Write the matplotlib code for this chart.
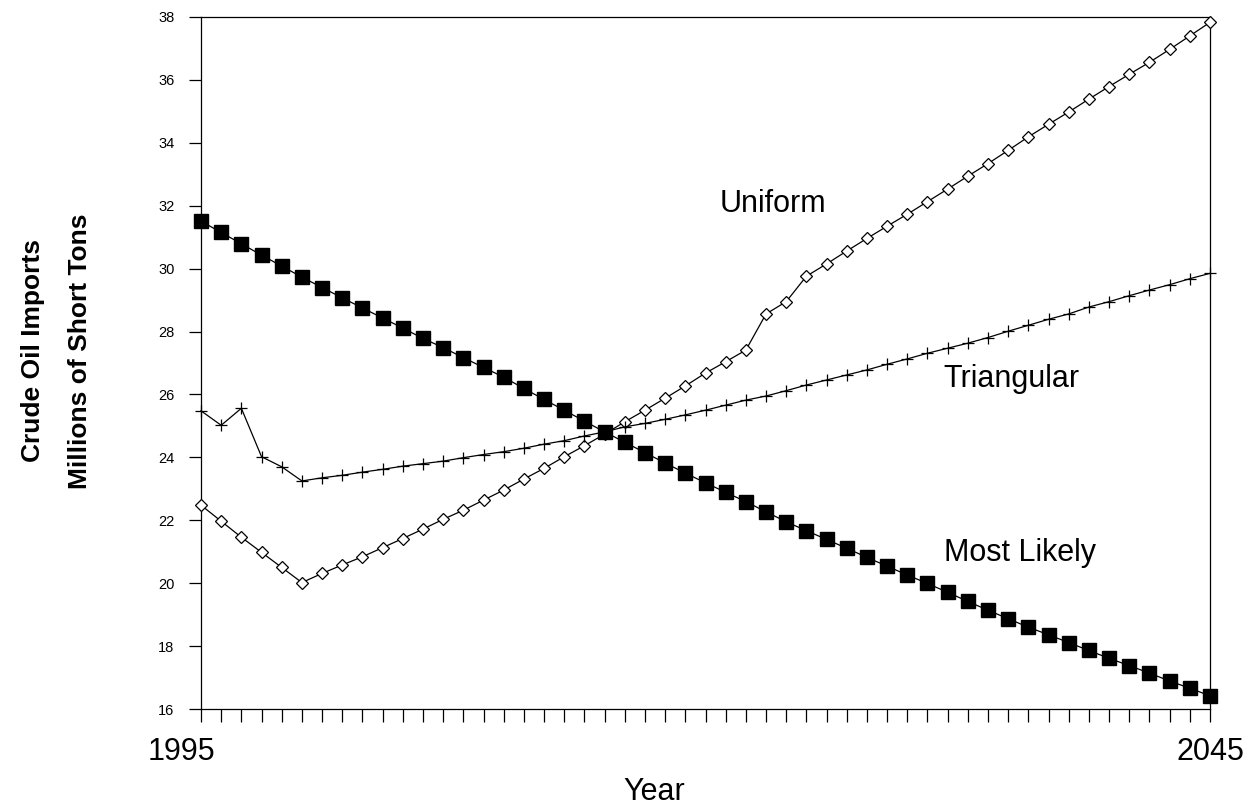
import matplotlib
matplotlib.use("Agg")
import matplotlib.pyplot as plt
import matplotlib.transforms as mtransforms
import numpy as np

plt.rcParams['font.family'] = ['Liberation Sans', 'DejaVu Sans']

# data (millions of short tons)
years = np.arange(1995, 2046)

most_likely = [31.51, 31.15, 30.79, 30.43, 30.08, 29.73, 29.40, 29.07, 28.75, 28.43,
               28.11, 27.78, 27.49, 27.17, 26.86, 26.55, 26.19, 25.84, 25.50, 25.15,
               24.81, 24.48, 24.15, 23.82, 23.50, 23.19, 22.89, 22.59, 22.27, 21.95,
               21.67, 21.39, 21.11, 20.82, 20.54, 20.26, 19.99, 19.71, 19.42, 19.14,
               18.87, 18.60, 18.36, 18.11, 17.86, 17.61, 17.38, 17.14, 16.89, 16.66,
               16.42]

triangular = [25.48, 25.02, 25.56, 24.02, 23.70, 23.25, 23.35, 23.43, 23.53, 23.62,
              23.72, 23.80, 23.88, 23.99, 24.09, 24.18, 24.29, 24.42, 24.53, 24.68,
              24.81, 24.97, 25.08, 25.21, 25.35, 25.50, 25.66, 25.82, 25.95, 26.12,
              26.30, 26.46, 26.62, 26.78, 26.96, 27.13, 27.31, 27.47, 27.63, 27.81,
              28.01, 28.20, 28.39, 28.56, 28.78, 28.95, 29.14, 29.32, 29.49, 29.68,
              29.85]

uniform = [22.48, 21.97, 21.46, 20.98, 20.50, 20.02, 20.31, 20.58, 20.84, 21.13,
           21.42, 21.72, 22.03, 22.32, 22.64, 22.96, 23.31, 23.65, 24.02, 24.37,
           24.74, 25.13, 25.50, 25.88, 26.27, 26.68, 27.04, 27.41, 28.56, 28.95,
           29.76, 30.15, 30.56, 30.96, 31.35, 31.73, 32.13, 32.53, 32.94, 33.34,
           33.76, 34.19, 34.59, 34.98, 35.39, 35.79, 36.18, 36.56, 36.97, 37.40,
           37.83]

yticks = np.arange(16, 39, 2)
xlabels = ['1995', '2045']

fig = plt.figure(figsize=(12.5, 8.05), dpi=100)
ax = fig.add_axes([201/1250, 1 - 709/805, (1210 - 201)/1250, (709 - 17)/805])

ax.plot(years, uniform, '-', color='black', lw=0.9, marker='D', ms=6.3,
        mfc='white', mec='black', mew=0.9, clip_on=False, zorder=3)
ax.plot(years, triangular, '-', color='black', lw=0.9, marker='+', ms=9,
        mew=0.9, clip_on=False, zorder=3)
ax.plot(years, most_likely, '-', color='black', lw=0.9, marker='s', ms=9.5,
        mfc='black', mec='black', clip_on=False, zorder=4)

# curve labels
ax.text(2020.7, 32.05, 'Uniform', fontsize=22, ha='left', va='center')
ax.text(2031.8, 26.5, 'Triangular', fontsize=22, ha='left', va='center')
ax.text(2031.8, 20.95, 'Most Likely', fontsize=22, ha='left', va='center')

ax.set_xlim(1995, 2045)
ax.set_ylim(16, 38)

ax.set_yticks(yticks)
ax.set_yticklabels([str(v) for v in yticks], fontsize=10.5)
ax.tick_params(axis='y', direction='out', length=9, width=0.9, pad=10)

ax.set_xticks([1995, 2045])
ax.set_xticklabels(xlabels, fontsize=22)
ax.set_xticks(years, minor=True)
ax.tick_params(axis='x', which='both', direction='out', length=9, width=0.9, pad=11)

# 1995 label sits a bit left of its tick
lbl = ax.get_xticklabels()[0]
lbl.set_transform(lbl.get_transform() + mtransforms.ScaledTranslation(-0.2, 0, fig.dpi_scale_trans))

for s in ax.spines.values():
    s.set_linewidth(0.9)
    s.set_color('black')

fig.text(654/1250, 5/805, 'Year', fontsize=22, ha='center', va='baseline')
fig.text(33/1250, 1 - 351/805, 'Crude Oil Imports', fontsize=19, fontweight='bold',
         rotation=90, ha='center', va='center')
fig.text(80/1250, 1 - 351/805, 'Millions of Short Tons', fontsize=19, fontweight='bold',
         rotation=90, ha='center', va='center')

plt.savefig('out.png', dpi=100)
